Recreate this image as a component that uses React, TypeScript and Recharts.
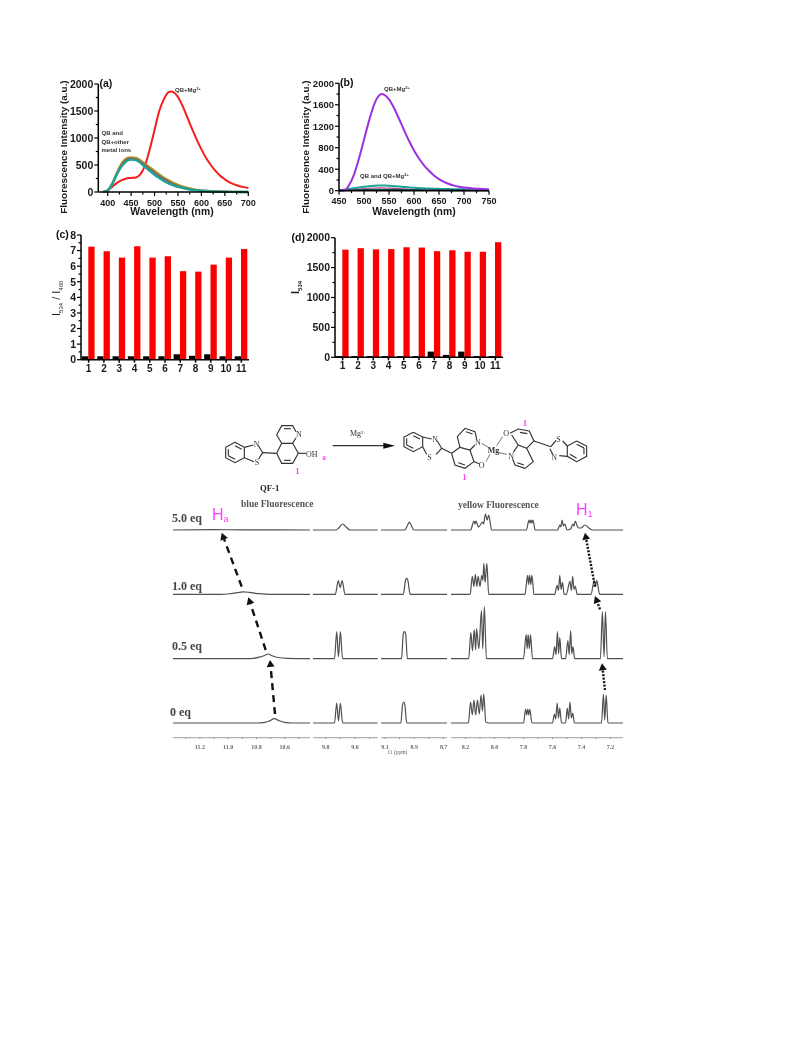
import React from "react";
import { LineChart, Line, BarChart, Bar, XAxis, YAxis } from "recharts";

// panel (a): emission spectra, QB alone / with metal ions
const waveA = [390, 400, 410, 420, 430, 440, 450, 460, 470, 480, 490, 500, 510, 520, 530, 535, 540, 550, 560, 570, 580, 590, 600, 610, 620, 630, 640, 650, 660, 670, 680, 690, 700];
const redA = [0, 30, 100, 170, 220, 250, 260, 270, 330, 500, 800, 1150, 1500, 1720, 1850, 1860, 1850, 1760, 1590, 1380, 1170, 970, 790, 630, 500, 390, 300, 235, 180, 140, 110, 90, 75];
const oliveA = [0, 30, 160, 360, 530, 620, 640, 630, 585, 520, 455, 390, 325, 265, 215, 190, 170, 130, 100, 75, 55, 40, 30, 22, 16, 11, 8, 5, 3, 2, 1, 0, 0];
const maroonA = [0, 30, 155, 345, 505, 595, 620, 610, 565, 495, 425, 360, 295, 240, 190, 165, 145, 110, 85, 62, 45, 33, 24, 17, 12, 8, 5, 3, 2, 1, 0, 0, 0];
const tealA = [0, 30, 150, 330, 480, 570, 600, 590, 540, 460, 390, 320, 260, 205, 160, 140, 125, 95, 75, 55, 40, 30, 22, 16, 12, 8, 6, 4, 3, 2, 1, 0, 0];

// panel (b)
const waveB = [450, 460, 465, 470, 480, 490, 500, 510, 520, 530, 535, 540, 550, 560, 570, 580, 590, 600, 610, 620, 630, 640, 650, 660, 670, 680, 690, 700, 710, 720, 730, 740, 750];
const purpleB = [0, 10, 30, 100, 300, 600, 950, 1300, 1600, 1770, 1800, 1790, 1700, 1540, 1340, 1130, 930, 750, 600, 470, 370, 285, 215, 165, 125, 95, 75, 60, 50, 40, 35, 30, 25];
const tealB = [15, 20, 25, 30, 45, 60, 72, 85, 92, 95, 96, 95, 92, 85, 78, 70, 62, 55, 50, 45, 40, 37, 35, 32, 30, 28, 27, 25, 22, 20, 18, 16, 15];
const pinkB = [5, 8, 10, 12, 22, 32, 40, 46, 50, 52, 52, 51, 48, 44, 40, 35, 30, 26, 22, 19, 16, 14, 12, 10, 9, 8, 7, 6, 5, 5, 4, 4, 3];
const navyB = [8, 8, 9, 10, 12, 14, 16, 18, 19, 20, 20, 20, 19, 18, 17, 16, 15, 14, 13, 12, 11, 10, 10, 9, 9, 8, 8, 8, 7, 7, 7, 6, 6];

// panels (c) and (d)
const metals = ["1", "2", "3", "4", "5", "6", "7", "8", "9", "10", "11"];
const ratioBlack = [0.22, 0.22, 0.22, 0.22, 0.22, 0.22, 0.35, 0.25, 0.35, 0.22, 0.22];
const ratioRed = [7.25, 6.95, 6.55, 7.28, 6.55, 6.63, 5.68, 5.65, 6.1, 6.55, 7.1];
const i534Black = [20, 20, 20, 20, 20, 20, 95, 40, 95, 20, 20];
const i534Red = [1800, 1825, 1805, 1810, 1840, 1835, 1775, 1790, 1765, 1765, 1925];

// NMR traces as [ppm, height], one list per titration step, per axis segment
const peaksHa0 = [[11.39, 0], [10.8, 0], [10.74, 0.6], [10.71, 2], [10.675, 4.3], [10.64, 2.2], [10.6, 0.6], [10.55, 0], [10.42, 0]];
const peaksHa05 = [[11.39, 0], [10.85, 0], [10.78, 1.5], [10.74, 3.5], [10.72, 4.7], [10.69, 3], [10.65, 1.2], [10.58, 0.3], [10.42, 0]];
const peaksHa1 = [[11.39, 0], [11.05, 0], [10.98, 0.8], [10.92, 2], [10.89, 2.5], [10.85, 2], [10.78, 0.7], [10.7, 0], [10.42, 0]];
const peaksHa5 = [[11.39, 0], [11.1, 0.3], [10.9, 0.2], [10.42, 0]];

const peaksA0 = [[9.887, 0], [9.74, 0], [9.725, 20], [9.713, 2], [9.7, 20], [9.685, 0], [9.445, 0]];
const peaksA05 = [[9.887, 0], [9.74, 0], [9.725, 27], [9.713, 2], [9.7, 27], [9.685, 0], [9.445, 0]];
const peaksA1 = [[9.887, 0], [9.735, 0], [9.714, 13.7], [9.701, 7], [9.688, 13.7], [9.668, 0], [9.445, 0]];
const peaksA5 = [[9.887, 0], [9.73, 0], [9.705, 3], [9.684, 6], [9.66, 3], [9.635, 0], [9.445, 0]];

const peaksB0 = [[9.127, 0], [8.992, 0], [8.98, 18], [8.972, 21], [8.964, 18], [8.952, 0], [8.675, 0]];
const peaksB05 = [[9.127, 0], [8.987, 0], [8.975, 25], [8.967, 27], [8.959, 25], [8.947, 0], [8.675, 0]];
const peaksB1 = [[9.127, 0], [8.975, 0], [8.96, 14], [8.952, 16], [8.944, 14], [8.928, 0], [8.675, 0]];
const peaksB5 = [[9.127, 0], [8.965, 0], [8.945, 5], [8.934, 8], [8.922, 5], [8.902, 0], [8.675, 0]];

const peaksC0 = [[8.3, 0], [8.18, 0], [8.165, 21], [8.153, 8], [8.142, 23], [8.13, 8], [8.118, 23], [8.105, 9], [8.093, 28], [8.083, 12], [8.074, 29], [8.06, 1], [8.04, 0], [7.8, 0], [7.785, 14], [7.778, 8], [7.771, 14], [7.764, 8], [7.757, 14], [7.742, 0], [7.6, 0], [7.587, 9], [7.578, 4], [7.568, 20], [7.559, 5], [7.55, 15], [7.538, 0], [7.51, 0], [7.498, 15], [7.489, 4], [7.48, 21], [7.47, 5], [7.461, 10], [7.449, 0], [7.262, 0], [7.249, 29], [7.24, 3], [7.23, 28], [7.218, 0], [7.11, 0]];
const peaksC05 = [[8.3, 0], [8.178, 0], [8.163, 26], [8.152, 8], [8.14, 29], [8.13, 9], [8.124, 30], [8.108, 10], [8.09, 48], [8.081, 10], [8.07, 52], [8.056, 0], [7.8, 0], [7.782, 24], [7.775, 10], [7.768, 24], [7.76, 10], [7.752, 24], [7.738, 0], [7.6, 0], [7.585, 12], [7.576, 4], [7.566, 27], [7.558, 5], [7.55, 21], [7.538, 0], [7.51, 0], [7.494, 18], [7.485, 4], [7.475, 28], [7.467, 5], [7.459, 12], [7.447, 0], [7.27, 0], [7.256, 47], [7.245, 2], [7.235, 47], [7.222, 0], [7.11, 0]];
const peaksC1 = [[8.3, 0], [8.168, 0], [8.153, 18], [8.142, 8], [8.132, 20], [8.122, 8], [8.113, 18], [8.1, 8], [8.088, 19], [8.08, 14], [8.074, 31], [8.065, 12], [8.053, 31], [8.04, 0], [7.79, 0], [7.772, 19], [7.765, 10], [7.758, 19], [7.75, 10], [7.742, 19], [7.728, 0], [7.585, 0], [7.568, 9], [7.559, 4], [7.55, 19], [7.541, 5], [7.531, 12], [7.52, 0], [7.505, 0], [7.48, 13], [7.47, 4], [7.461, 18], [7.452, 5], [7.443, 8], [7.43, 0], [7.335, 0], [7.312, 14], [7.303, 8], [7.295, 14], [7.275, 0], [7.11, 0]];
const peaksC5 = [[8.3, 0], [8.165, 0], [8.142, 9], [8.135, 6], [8.128, 9], [8.11, 3], [8.082, 8], [8.075, 6], [8.063, 16], [8.05, 10], [8.04, 15], [8.02, 0], [7.78, 0], [7.762, 10], [7.755, 7], [7.748, 10], [7.742, 7], [7.735, 10], [7.72, 0], [7.565, 0], [7.55, 5], [7.542, 3], [7.534, 10], [7.525, 4], [7.515, 6], [7.5, 0], [7.475, 1], [7.46, 6], [7.452, 4], [7.443, 9], [7.43, 4], [7.42, 2], [7.405, 2], [7.375, 5], [7.35, 2], [7.325, 0], [7.11, 0]];

const segmentHa = [peaksHa0, peaksHa05, peaksHa1, peaksHa5];
const segmentA = [peaksA0, peaksA05, peaksA1, peaksA5];
const segmentB = [peaksB0, peaksB05, peaksB1, peaksB5];
const segmentC = [peaksC0, peaksC05, peaksC1, peaksC5];

const ticksHa = [11.3, 11.2, 11.1, 11.0, 10.9, 10.8, 10.7, 10.6, 10.5];
const labelsHa = [11.2, 11.0, 10.8, 10.6];
const ticksA = [9.8, 9.7, 9.6, 9.5];
const labelsA = [9.8, 9.6];
const ticksB = [9.1, 9.0, 8.9, 8.8, 8.7];
const labelsB = [9.1, 8.9, 8.7];
const ticksC = [8.2, 8.1, 8.0, 7.9, 7.8, 7.7, 7.6, 7.5, 7.4, 7.3, 7.2];
const labelsC = [8.2, 8.0, 7.8, 7.6, 7.4, 7.2];

const stackOffsets = [14.7, 79, 143.3, 207.7]; // vertical stacking of the four traces
const SANS = "'Liberation Sans', Arial, sans-serif";
const SERIF = "'Liberation Serif', 'Times New Roman', serif";
const PINK = "#ff40ff";

// ticks with a short stub for the unlabelled minor values
function axisTick(side: "x" | "y", majors: number[], size: number) {
  return (p: any) => {
    const v = Number(p.payload.value);
    const major = majors.includes(v);
    const len = major ? 4 : 2.5;
    if (side === "x") {
      return (
        <g>
          <line x1={p.x} x2={p.x} y1={p.y} y2={p.y + len} stroke="#000" strokeWidth={1.2} />
          {major && <text x={p.x} y={p.y + 13.5} textAnchor="middle" fontSize={size} fontWeight="bold" fontFamily={SANS} fill="#1a1a1a">{v}</text>}
        </g>
      );
    }
    return (
      <g>
        <line x1={p.x} x2={p.x - len} y1={p.y} y2={p.y} stroke="#000" strokeWidth={1.2} />
        {major && <text x={p.x - 5} y={p.y + size * 0.36} textAnchor="end" fontSize={size} fontWeight="bold" fontFamily={SANS} fill="#1a1a1a">{v}</text>}
      </g>
    );
  };
}

function nmrTick(labels: number[]) {
  return (p: any) => {
    const v = Number(p.payload.value);
    const labelled = labels.includes(v);
    return (
      <g>
        <line x1={p.x} x2={p.x} y1={p.y} y2={p.y + 1.5} stroke="#777" strokeWidth={0.7} />
        {labelled && <text x={p.x} y={p.y + 11} textAnchor="middle" fontSize={6} fontWeight="bold" fontFamily={SERIF} fill="#666">{v.toFixed(1)}</text>}
      </g>
    );
  };
}

function zip(xs: number[], y: number[][]) {
  return xs.map((x, i) => {
    const row: any = { x };
    y.forEach((s, j) => (row["s" + j] = s[i]));
    return row;
  });
}

function Spectrum({ left, top, width, height, plot, wave, series, domain, xMajors, xMinors, yMajors, yMinors, ySize }: any) {
  const data = zip(wave, series.map((s: any) => s.values));
  return (
    <div style={{ position: "absolute", left, top, width, height }}>
      <LineChart width={width} height={height} data={data} margin={{ top: plot.top, right: plot.right, left: 0, bottom: 0 }}>
        <XAxis dataKey="x" type="number" domain={domain} ticks={[...xMajors, ...xMinors].sort((a, b) => a - b)} interval={0} tickSize={0} tickMargin={0} tick={axisTick("x", xMajors, 9)} height={plot.bottom} stroke="#000" strokeWidth={1.5} />
        <YAxis type="number" domain={[0, 2000]} ticks={[...yMajors, ...yMinors].sort((a, b) => a - b)} interval={0} tickSize={0} tickMargin={0} tick={axisTick("y", yMajors, ySize)} width={plot.left} stroke="#000" strokeWidth={1.5} />
        {series.map((s: any, i: number) => (
          <Line key={i} dataKey={"s" + i} type="monotone" stroke={s.color} strokeWidth={s.width} dot={false} isAnimationActive={false} />
        ))}
      </LineChart>
    </div>
  );
}

function Bars({ left, top, width, height, plot, black, red, yMax, majors, minors, ySize }: any) {
  const data = metals.map((m, i) => ({ m, black: black[i], red: red[i] }));
  return (
    <div style={{ position: "absolute", left, top, width, height }}>
      <BarChart width={width} height={height} data={data} barSize={6.3} barGap={0} margin={{ top: plot.top, right: plot.right, left: 0, bottom: 0 }}>
        <XAxis dataKey="m" tickSize={3} tickMargin={2} interval={0} height={plot.bottom} stroke="#000" strokeWidth={1.5} tick={{ fontSize: 10, fontWeight: "bold", fontFamily: SANS, fill: "#1a1a1a" }} />
        <YAxis type="number" domain={[0, yMax]} ticks={[...majors, ...minors].sort((a, b) => a - b)} interval={0} tickSize={0} tickMargin={0} tick={axisTick("y", majors, ySize)} width={plot.left} stroke="#000" strokeWidth={1.5} />
        <Bar dataKey="black" fill="#000" isAnimationActive={false} />
        <Bar dataKey="red" fill="#fa0000" isAnimationActive={false} />
      </BarChart>
    </div>
  );
}

function NmrSegment({ left, width, domain, traces, ticks, labels }: any) {
  return (
    <div style={{ position: "absolute", left, top: 490, width, height: 270 }}>
      <LineChart width={width} height={270} margin={{ top: 0, right: 0, left: 0, bottom: 0 }}>
        <XAxis dataKey="ppm" type="number" reversed allowDuplicatedCategory={false} domain={domain} ticks={ticks} interval={0} tickSize={0} tickMargin={0} tick={nmrTick(labels)} height={22.3} stroke="#888" strokeWidth={0.8} />
        <YAxis hide type="number" domain={[0, 247.7]} />
        {traces.map((t: number[][], i: number) => (
          <Line key={i} data={t.map(([ppm, h]) => ({ ppm, y: h + stackOffsets[i] }))} dataKey="y" type="monotone" stroke="#505050" strokeWidth={1.2} dot={false} isAnimationActive={false} />
        ))}
      </LineChart>
    </div>
  );
}

const Sub = ({ children, dy = 2.5, size = 6, back = 0 }: any) => <tspan dy={dy} dx={back} fontSize={size}>{children}</tspan>;

function Bond({ pts, w = 3.4 }: { pts: number[][]; w?: number }) {
  return <polyline points={pts.map((p) => p.join(",")).join(" ")} fill="none" stroke="#333" strokeWidth={w} />;
}

// drawn in coordinates three times the page size, then scaled down
function Molecules() {
  const t = { fontFamily: SERIF, fontSize: 24, fill: "#333" };
  const pink = { fontFamily: SERIF, fontSize: 26, fontWeight: "bold", fill: PINK };
  return (
    <g transform="translate(210 415) scale(0.3333)">
      {/* free ligand */}
      <Bond pts={[[75, 82], [103, 97], [103, 128], [75, 143], [47, 128], [47, 97], [75, 82]]} />
      <Bond pts={[[75, 92], [95, 103]]} />
      <Bond pts={[[55, 122], [75, 133]]} />
      <Bond pts={[[55, 103], [55, 122]]} />
      <Bond pts={[[103, 97], [130, 90]]} />
      <Bond pts={[[146, 93], [158, 113], [146, 132]]} />
      <Bond pts={[[103, 128], [132, 140]]} />
      <Bond pts={[[158, 113], [200, 115]]} />
      <Bond pts={[[200, 115], [215, 85], [200, 60], [215, 32], [248, 32], [258, 50]]} />
      <Bond pts={[[258, 68], [248, 85], [215, 85]]} />
      <Bond pts={[[248, 85], [265, 115], [248, 145], [215, 145], [200, 115]]} />
      <Bond pts={[[222, 41], [243, 41]]} />
      <Bond pts={[[222, 136], [242, 136]]} />
      <Bond pts={[[265, 115], [288, 115]]} />
      <text {...t} x={131} y={96}>N</text>
      <text {...t} x={134} y={150}>S</text>
      <text {...t} x={258} y={66}>N</text>
      <text {...t} x={288} y={126}>OH</text>
      <text {...pink} x={337} y={135} fontSize={22}>a</text>
      <text {...pink} x={256} y={178}>1</text>
      <text x={150} y={228} fontFamily={SERIF} fontSize={26} fontWeight="bold" fill="#222">QF-1</text>
      {/* reaction arrow */}
      <Bond pts={[[368, 92], [530, 92]]} />
      <polygon points="555,92 520,83 520,101" fill="#111" />
      <text {...t} x={420} y={64}>Mg<tspan dy={-8} fontSize={14}>2+</tspan></text>
      {/* Mg complex, left half */}
      <Bond pts={[[610, 52], [638, 66], [638, 95], [610, 110], [582, 95], [582, 66], [610, 52]]} />
      <Bond pts={[[610, 62], [630, 72]]} />
      <Bond pts={[[590, 90], [610, 100]]} />
      <Bond pts={[[590, 70], [590, 90]]} />
      <Bond pts={[[638, 66], [665, 72]]} />
      <Bond pts={[[682, 78], [695, 100], [678, 118]]} />
      <Bond pts={[[638, 95], [650, 118]]} />
      <Bond pts={[[695, 100], [725, 115]]} />
      <Bond pts={[[725, 115], [750, 97], [742, 65], [765, 40], [795, 50], [800, 72]]} />
      <Bond pts={[[795, 90], [780, 105], [750, 97]]} />
      <Bond pts={[[780, 105], [792, 140], [765, 160], [735, 150], [725, 115]]} />
      <Bond pts={[[768, 50], [788, 57]]} />
      <Bond pts={[[745, 143], [765, 150]]} />
      <Bond pts={[[792, 140], [808, 146]]} />
      <text {...t} x={795} y={90}>N</text>
      <text {...t} x={652} y={136}>S</text>
      <text {...t} x={667} y={82}>N</text>
      <text {...t} x={806} y={158}>O</text>
      <text {...t} x={833} y={113} fontWeight="bold">Mg</text>
      <Bond pts={[[815, 85], [835, 97]]} w={2} />
      <Bond pts={[[828, 140], [840, 118]]} w={2} />
      <Bond pts={[[862, 112], [890, 118]]} w={2} />
      <Bond pts={[[860, 92], [878, 65]]} w={2} />
      <text {...pink} x={757} y={196}>1</text>
      {/* Mg complex, right half */}
      <text {...t} x={880} y={62}>O</text>
      <text {...t} x={895} y={131}>N</text>
      <Bond pts={[[900, 55], [925, 42], [958, 48], [972, 78], [950, 100], [925, 90], [905, 60]]} />
      <Bond pts={[[930, 52], [952, 56]]} />
      <Bond pts={[[925, 90], [910, 112]]} />
      <Bond pts={[[908, 132], [915, 150], [945, 160], [970, 140], [950, 100]]} />
      <Bond pts={[[922, 143], [942, 150]]} />
      <Bond pts={[[972, 78], [1023, 95]]} />
      <Bond pts={[[1023, 95], [1038, 76]]} />
      <Bond pts={[[1020, 101], [1028, 118]]} />
      <Bond pts={[[1058, 78], [1072, 93]]} />
      <Bond pts={[[1048, 122], [1072, 124]]} />
      <Bond pts={[[1100, 78], [1130, 93], [1130, 124], [1100, 140], [1072, 124], [1072, 93], [1100, 78]]} />
      <Bond pts={[[1100, 88], [1122, 99]]} />
      <Bond pts={[[1080, 118], [1100, 130]]} />
      <Bond pts={[[1122, 99], [1122, 118]]} />
      <text {...t} x={1039} y={82}>S</text>
      <text {...t} x={1024} y={136}>N</text>
      <text {...pink} x={938} y={32}>1</text>
    </g>
  );
}

function Arrow({ from, to, dash, w }: { from: number[]; to: number[]; dash: string; w: number }) {
  const dx = to[0] - from[0];
  const dy = to[1] - from[1];
  const l = Math.hypot(dx, dy);
  const ux = dx / l;
  const uy = dy / l;
  const bx = to[0] - ux * 7;
  const by = to[1] - uy * 7;
  return (
    <g>
      <line x1={from[0]} y1={from[1]} x2={bx} y2={by} stroke="#111" strokeWidth={w} strokeDasharray={dash} />
      <polygon points={`${to[0]},${to[1]} ${bx - uy * 4},${by + ux * 4} ${bx + uy * 4},${by - ux * 4}`} fill="#111" />
    </g>
  );
}

function Notes() {
  const small = { fontFamily: SANS, fontSize: 6, fontWeight: "bold", fill: "#333" };
  const tag = { fontFamily: SANS, fontSize: 10.5, fontWeight: "bold", fill: "#111" };
  const eq = { fontFamily: SERIF, fontSize: 12, fontWeight: "bold", fill: "#444" };
  const head = { fontFamily: SERIF, fontSize: 9.5, fontWeight: "bold", fill: "#555" };
  const title = { fontFamily: SANS, fontSize: 10.4, fontWeight: "bold", fill: "#1a1a1a", textAnchor: "middle" as const };
  return (
    <svg width={793} height={1057} style={{ position: "absolute", left: 0, top: 0, pointerEvents: "none" }}>
      <text {...title} x={172} y={215}>Wavelength (nm)</text>
      <text {...title} x={414} y={215}>Wavelength (nm)</text>
      <text {...title} fontSize={9.9} transform="rotate(-90 67 147)" x={67} y={147}>Fluorescence Intensity (a.u.)</text>
      <text {...title} fontSize={9.9} transform="rotate(-90 309 147)" x={309} y={147}>Fluorescence Intensity (a.u.)</text>
      <text {...tag} x={99.5} y={87}>(a)</text>
      <text {...tag} x={340} y={86}>(b)</text>
      <text {...tag} x={56} y={238}>(c)</text>
      <text {...tag} x={291.5} y={241}>(d)</text>
      <text {...small} x={175} y={92}>QB+Mg<tspan dy={-2} fontSize={4}>2+</tspan></text>
      <text {...small} x={101.5} y={135}>QB and</text>
      <text {...small} x={101.5} y={143.5}>QB+other</text>
      <text {...small} x={101.5} y={152}>metal ions</text>
      <text {...small} x={384} y={91}>QB+Mg<tspan dy={-2} fontSize={4}>2+</tspan></text>
      <text {...small} x={360} y={178}>QB and QB+Mg<tspan dy={-2} fontSize={4}>2+</tspan></text>
      <text transform="rotate(-90 60 316)" x={60} y={316} fontFamily={SANS} fontSize={11} fill="#222">
        I<Sub>534</Sub><tspan dy={-2.5}> / I</tspan><Sub>460</Sub>
      </text>
      <text transform="rotate(-90 299 294)" x={299} y={294} fontFamily={SANS} fontSize={11} fontWeight="bold" fill="#222">
        I<Sub>534</Sub>
      </text>
      <Molecules />
      <text {...head} x={241} y={507}>blue Fluorescence</text>
      <text {...head} x={458} y={508}>yellow Fluorescence</text>
      <text {...eq} x={172} y={522}>5.0 eq</text>
      <text {...eq} x={172} y={589.5}>1.0 eq</text>
      <text {...eq} x={172} y={650}>0.5 eq</text>
      <text {...eq} x={170} y={716}>0 eq</text>
      <text x={212} y={520} fontFamily={SANS} fontSize={16} fill={PINK}>H<tspan dy={2} fontSize={9}>a</tspan></text>
      <text x={576} y={515} fontFamily={SANS} fontSize={16} fill={PINK}>H<tspan dy={2} fontSize={9}>1</tspan></text>
      <text x={388} y={754} fontFamily={SERIF} fontSize={5.5} fill="#666">f1 (ppm)</text>
      <Arrow from={[275, 714]} to={[270, 660]} dash="7 5" w={2.4} />
      <Arrow from={[265.7, 650]} to={[248.3, 597.3]} dash="7 5" w={2.4} />
      <Arrow from={[241.7, 586.7]} to={[221.7, 532.7]} dash="7 5" w={2.4} />
      <Arrow from={[605, 690]} to={[602, 663.3]} dash="2 1.5" w={2.4} />
      <Arrow from={[600, 609.3]} to={[595, 596]} dash="2 1.5" w={2.4} />
      <Arrow from={[595, 586.7]} to={[585, 532.7]} dash="2 1.5" w={2.4} />
    </svg>
  );
}

export default function App() {
  return (
    <div style={{ position: "absolute", left: 0, top: 0, width: 793, height: 1057, background: "#fff", overflow: "hidden", filter: "blur(0.5px)" }}>
      <Spectrum
        left={40} top={70} width={230} height={145}
        plot={{ left: 58.3, right: 21.7, top: 14, bottom: 23 }}
        wave={waveA} domain={[380, 700]} ySize={10.5}
        series={[
          { values: redA, color: "#f81c1c", width: 2 },
          { values: oliveA, color: "#a89528", width: 2.4 },
          { values: maroonA, color: "#8a4a6a", width: 1.4 },
          { values: tealA, color: "#1aa596", width: 2.4 },
        ]}
        xMajors={[400, 450, 500, 550, 600, 650, 700]} xMinors={[425, 475, 525, 575, 625, 675]}
        yMajors={[0, 500, 1000, 1500, 2000]} yMinors={[250, 750, 1250, 1750]}
      />
      <Spectrum
        left={280} top={70} width={230} height={145}
        plot={{ left: 59, right: 21, top: 13.3, bottom: 24.3 }}
        wave={waveB} domain={[450, 750]} ySize={9.5}
        series={[
          { values: tealB, color: "#1aa596", width: 2 },
          { values: pinkB, color: "#d0508a", width: 1.2 },
          { values: navyB, color: "#124a5a", width: 1.8 },
          { values: purpleB, color: "#9b30e0", width: 2 },
        ]}
        xMajors={[450, 500, 550, 600, 650, 700, 750]} xMinors={[475, 525, 575, 625, 675, 725]}
        yMajors={[0, 400, 800, 1200, 1600, 2000]} yMinors={[200, 600, 1000, 1400, 1800]}
      />
      <Bars
        left={40} top={225} width={220} height={160}
        plot={{ left: 41, right: 11, top: 10, bottom: 25.3 }}
        black={ratioBlack} red={ratioRed} yMax={8} ySize={10.5}
        majors={[0, 1, 2, 3, 4, 5, 6, 7, 8]} minors={[0.5, 1.5, 2.5, 3.5, 4.5, 5.5, 6.5, 7.5]}
      />
      <Bars
        left={285} top={225} width={230} height={160}
        plot={{ left: 50, right: 12, top: 12.7, bottom: 27.7 }}
        black={i534Black} red={i534Red} yMax={2000} ySize={10.5}
        majors={[0, 500, 1000, 1500, 2000]} minors={[250, 750, 1250, 1750]}
      />
      <NmrSegment left={172.7} width={137.3} domain={[10.42, 11.39]} traces={segmentHa} ticks={ticksHa} labels={labelsHa} />
      <NmrSegment left={313} width={64.7} domain={[9.445, 9.887]} traces={segmentA} ticks={ticksA} labels={labelsA} />
      <NmrSegment left={381} width={66.3} domain={[8.675, 9.127]} traces={segmentB} ticks={ticksB} labels={labelsB} />
      <NmrSegment left={450.7} width={172.6} domain={[7.11, 8.3]} traces={segmentC} ticks={ticksC} labels={labelsC} />
      <Notes />
    </div>
  );
}
